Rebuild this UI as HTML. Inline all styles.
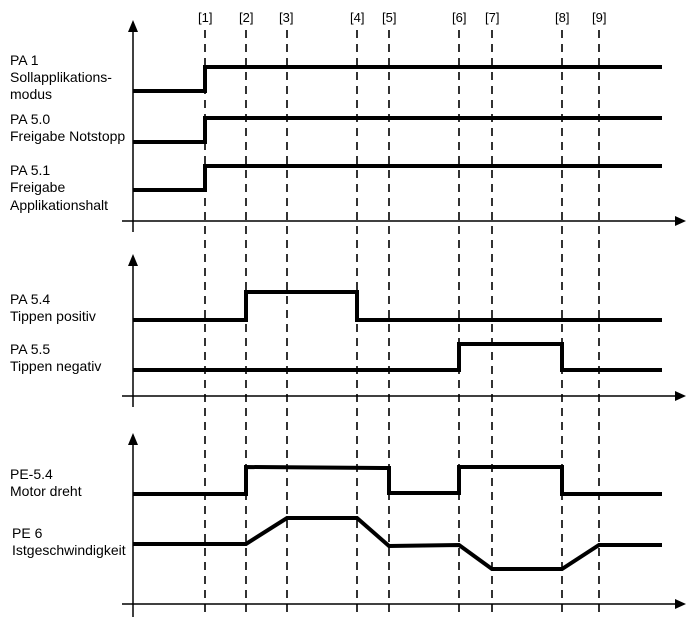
<!DOCTYPE html>
<html><head><meta charset="utf-8"><style>
html,body{margin:0;padding:0;background:#fff;}
svg{display:block;}
text{font-family:"Liberation Sans",sans-serif;font-size:13px;fill:#000;}
.l{font-size:14px;}
</style></head><body>
<svg width="686" height="617" viewBox="0 0 686 617" xmlns="http://www.w3.org/2000/svg">
<g stroke="#000" stroke-width="1.6" stroke-dasharray="8,6" fill="none">
<line x1="205" y1="30" x2="205" y2="617"/>
<line x1="246" y1="30" x2="246" y2="617"/>
<line x1="287" y1="30" x2="287" y2="617"/>
<line x1="357" y1="30" x2="357" y2="617"/>
<line x1="389" y1="30" x2="389" y2="617"/>
<line x1="459" y1="30" x2="459" y2="617"/>
<line x1="492" y1="30" x2="492" y2="617"/>
<line x1="562" y1="30" x2="562" y2="617"/>
<line x1="599" y1="30" x2="599" y2="617"/>
</g>
<g>
<text x="198" y="22">[1]</text><text x="239" y="22">[2]</text><text x="279" y="22">[3]</text>
<text x="350" y="22">[4]</text><text x="382" y="22">[5]</text><text x="452" y="22">[6]</text>
<text x="485" y="22">[7]</text><text x="555" y="22">[8]</text><text x="592" y="22">[9]</text>
</g>
<g stroke="#000" stroke-width="1.5" fill="none">
<line x1="133" y1="30" x2="133" y2="232"/>
<line x1="122" y1="221" x2="676" y2="221"/>
<line x1="133" y1="264" x2="133" y2="407"/>
<line x1="122" y1="396" x2="676" y2="396"/>
<line x1="133" y1="444" x2="133" y2="617"/>
<line x1="122" y1="604" x2="676" y2="604"/>
</g>
<g fill="#000">
<polygon points="133,20 128,32 138,32"/>
<polygon points="133,254 128,266 138,266"/>
<polygon points="133,433 128,445 138,445"/>
<polygon points="686,221 675,216 675,226"/>
<polygon points="686,396 675,391 675,401"/>
<polygon points="686,604 675,599 675,609"/>
</g>
<g stroke="#000" stroke-width="4" fill="none" stroke-linejoin="miter">
<polyline points="133,91 205,91 205,67 662,67"/>
<polyline points="133,142 205,142 205,118 662,118"/>
<polyline points="133,190 205,190 205,166 662,166"/>
<polyline points="133,320 246,320 246,292 357,292 357,320 662,320"/>
<polyline points="133,370 459,370 459,344 562,344 562,370 662,370"/>
<polyline points="133,494 246,494 246,467 389,468 389,493 459,493 459,467 562,467 562,494 662,494"/>
<polyline points="133,544 246,544 287,518 357,518 389,546 459,545 492,569 562,569 599,545 662,545"/>
</g>
<text class="l" x="10" y="65">PA 1</text>
<text class="l" x="10" y="82">Sollapplikations-</text>
<text class="l" x="10" y="99">modus</text>
<text class="l" x="10" y="124">PA 5.0</text>
<text class="l" x="10" y="141">Freigabe Notstopp</text>
<text class="l" x="10" y="175">PA 5.1</text>
<text class="l" x="10" y="192">Freigabe</text>
<text class="l" x="10" y="210">Applikationshalt</text>
<text class="l" x="10" y="304">PA 5.4</text>
<text class="l" x="10" y="321">Tippen positiv</text>
<text class="l" x="10" y="354">PA 5.5</text>
<text class="l" x="10" y="371">Tippen negativ</text>
<text class="l" x="10" y="479">PE-5.4</text>
<text class="l" x="10" y="496">Motor dreht</text>
<text class="l" x="12" y="538">PE 6</text>
<text class="l" x="12" y="555">Istgeschwindigkeit</text>
</svg>
</body></html>
